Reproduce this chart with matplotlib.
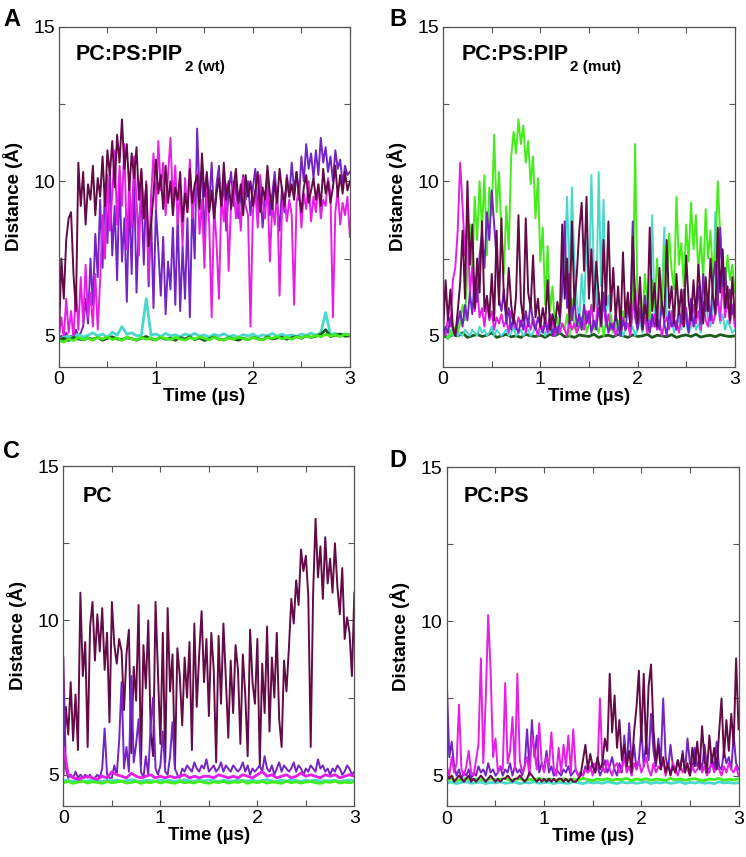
import numpy as np
import matplotlib.pyplot as plt

plt.rcParams['font.family'] = ['Liberation Sans', 'DejaVu Sans']

# colores tipo xmgrace
MAROON = '#640a46'
INDIGO = '#7424c4'
MAGENTA = '#e61ee6'
TURQ = '#48d8cc'
GREEN = '#44ec1c'
DKGREEN = '#1e5a1e'

# ---------------- Panel A: PC:PS:PIP2 (wt) ----------------
a_maroon = [4.9, 7.5, 6.2, 8.1, 8.8,
            9.0, 7.0, 5.8, 10.6,
            9.2, 10.3, 8.6, 9.9, 9.4, 10.5, 8.9, 10.1,
            9.5, 10.8, 9.2, 11.0, 10.2, 11.3, 9.8, 11.5,
            10.6, 12.0, 10.4, 11.2, 9.7, 10.9, 10.1, 11.1,
            9.4, 10.4, 8.8, 9.9, 7.9, 8.6, 9.6, 10.7,
            9.6, 10.2, 9.1, 10.5, 9.3, 10.0, 8.9, 9.8,
            9.4, 10.3, 8.7, 9.6, 9.0, 10.4, 9.3, 9.9,
            10.2, 9.1, 10.9, 9.5, 10.3, 9.0, 9.7, 8.8,
            9.6, 10.1, 9.2, 10.6, 9.4, 10.0, 9.1, 9.8,
            10.4, 9.3, 9.9, 8.9, 10.2, 9.5, 10.0, 9.2,
            9.7, 10.3, 9.0, 9.8, 9.4, 10.5, 9.6, 9.1,
            10.0, 9.3, 10.4, 9.7, 9.2, 10.1, 9.5, 9.9,
            9.4, 10.3, 9.6, 9.0, 9.8, 10.2, 9.3, 9.7,
            10.1, 9.4, 9.9, 9.2, 10.4, 9.6, 10.0, 9.3,
            9.8, 10.5, 9.5, 10.2, 9.6, 10.3, 9.7, 10.0]
a_indigo = [4.9, 5.0, 4.8, 5.1, 4.9, 5.0, 4.9, 5.2, 5.0, 5.1,
            5.3, 6.2, 5.4, 7.5, 6.0, 8.3, 6.9, 9.4,
            7.2, 9.9, 8.0, 10.4, 7.6, 9.2, 6.8, 10.1,
            7.4, 8.8, 6.1, 9.5, 7.0, 10.2, 6.4, 8.7,
            9.6, 7.3, 10.0, 6.6, 8.9, 5.9, 9.1, 7.8,
            6.3, 8.2, 5.7, 7.4, 6.5, 8.5, 6.0, 9.0,
            5.8, 7.9, 6.2, 8.8, 5.6, 9.3, 7.5, 11.7,
            9.6, 10.4, 8.1, 10.2, 9.3, 10.6, 8.7, 9.9,
            10.5, 9.0, 10.1, 8.4, 9.7, 10.3, 9.2, 10.0,
            8.8, 9.6, 10.2, 9.4, 10.0, 8.9, 9.8, 10.4,
            9.1, 9.9, 8.5, 9.5, 10.1, 8.9, 9.6, 10.3,
            9.3, 8.4, 9.8, 9.0, 10.2, 9.5, 10.6, 9.7,
            10.3, 9.4, 10.8, 10.0, 11.2, 10.4, 10.9, 10.1,
            11.0, 10.2, 11.4, 10.6, 11.1, 10.3, 10.8, 10.0,
            11.0, 10.4, 10.7, 9.9, 10.5, 10.2, 10.3]
a_magenta = [5.0, 5.6, 4.9, 6.2, 5.1, 5.8, 4.9, 6.6,
             5.2, 6.9, 5.4, 7.3, 5.6, 6.4, 5.3, 7.0,
             5.2, 6.8, 8.9, 7.5, 10.2, 8.4, 9.6, 11.0,
             8.6, 10.5, 9.2, 11.2, 7.8, 10.0, 8.5, 10.8,
             9.4, 7.6, 10.3, 8.8, 9.9, 6.8, 9.5, 10.9,
             9.1, 11.3, 9.7, 10.6, 8.9, 10.2, 11.4, 9.3,
             10.5, 8.6, 9.8, 7.9, 10.1, 9.0, 10.7, 8.8,
             9.6, 10.3, 8.3, 9.4, 7.2, 9.8, 8.6, 5.6,
             9.2, 8.0, 6.2, 9.5, 8.7, 9.9, 7.1, 9.3,
             10.0, 8.8, 9.6, 8.4, 10.1, 9.2, 8.9, 5.3,
             9.0, 9.7, 8.5, 10.2, 9.4, 8.8, 9.9, 7.4,
             9.3, 8.6, 9.8, 6.3, 9.1, 9.6, 8.7, 9.4,
             8.9, 6.0, 9.3, 9.8, 8.5, 9.6, 9.1, 10.0,
             8.7, 9.5, 9.0, 9.9, 8.8, 9.4, 9.2, 10.1,
             9.6, 5.6, 9.0, 9.7, 8.6, 9.3, 8.9, 9.5, 8.2]
a_turq = [4.90, 4.95, 5.00, 4.92, 5.05, 4.96, 5.02, 5.10, 5.00, 5.06,
          4.95, 5.12, 5.02, 5.30, 5.05, 5.10, 5.00, 5.03, 6.20, 5.02,
          5.06, 4.98, 5.08, 5.00, 5.04, 4.97, 5.06, 5.01, 5.08, 4.99,
          5.03, 4.96, 5.05, 5.00, 5.07, 4.98, 5.02, 4.95, 5.04, 5.00,
          5.06, 4.97, 5.03, 5.00, 5.08, 4.99, 5.05, 5.00, 5.03, 4.98,
          5.06, 5.01, 5.09, 5.02, 5.10, 5.75, 5.05, 5.08, 5.02, 5.06, 5.04]
a_dkgreen = [4.88, 4.92, 4.85, 4.95, 4.90, 4.87, 4.93, 4.89, 4.95, 4.86,
             4.92, 4.97, 4.90, 4.88, 4.94, 4.91, 4.86, 4.93, 4.98, 4.90,
             4.87, 4.95, 4.89, 4.92, 4.86, 4.94, 4.90, 4.97, 4.88, 4.93,
             4.85, 4.91, 4.96, 4.89, 4.87, 4.94, 4.90, 4.86, 4.92, 4.88,
             4.95, 4.91, 4.87, 4.97, 4.90, 4.93, 4.96, 4.89, 4.94, 4.98,
             4.92, 5.00, 4.95, 4.99, 5.05, 5.20, 4.98, 5.02, 5.06, 4.99, 5.00]
a_green = [4.85, 4.80, 4.90, 4.85, 4.95, 4.88, 4.92, 4.86, 4.95, 4.90,
           4.97, 4.88, 4.93, 4.85, 4.96, 4.90, 4.87, 4.95, 4.89, 4.93,
           4.86, 4.96, 4.91, 4.88, 4.95, 4.90, 4.86, 4.94, 4.89, 4.97,
           4.92, 4.87, 4.95, 4.90, 4.86, 4.93, 4.89, 4.96, 4.91, 4.88,
           4.95, 4.90, 4.87, 4.94, 4.92, 4.98, 4.90, 4.95, 4.89, 4.97,
           4.93, 5.00, 4.95, 5.02, 4.97, 5.05, 5.00, 5.03, 4.98, 5.05, 5.02]

# ---------------- Panel B: PC:PS:PIP2 (mut) ----------------
b_green = [5.0, 5.1, 4.9, 5.2, 5.0, 5.3, 5.1, 5.4,
           6.0, 5.5, 7.2, 8.6, 7.0, 9.5, 8.1, 10.0,
           8.4, 10.2, 7.6, 9.8, 8.9, 11.5, 9.0, 10.3,
           8.3, 7.0, 9.2, 7.8, 10.8, 11.6, 10.9, 12.0,
           11.2, 11.8, 10.6, 11.3, 9.9, 10.8, 8.8, 10.1,
           7.4, 8.5, 6.0, 7.9, 5.8, 6.6, 5.3, 5.6,
           5.1, 5.4, 5.2, 5.7, 5.0, 6.2, 5.3, 5.1,
           5.5, 5.2, 5.8, 5.1, 5.4, 6.0, 5.2, 5.3,
           5.1, 5.6, 5.0, 5.4, 5.2, 5.7, 5.1, 5.3,
           5.5, 5.0, 5.8, 5.2, 5.4, 5.1, 6.0, 11.2,
           5.8, 6.3, 5.4, 7.0, 6.1, 5.5, 6.8, 5.9,
           7.5, 6.4, 5.7, 7.9, 6.6, 8.3, 7.1, 6.5,
           9.5, 7.3, 8.0, 6.6, 8.6, 7.4, 9.3, 7.8,
           8.9, 7.0, 8.2, 6.8, 9.1, 7.5, 8.4, 6.9,
           7.7, 10.0, 8.2, 7.2, 6.5, 7.6, 6.8, 7.3, 6.4]
b_turq = [5.0, 5.1, 4.9, 5.0, 5.1, 5.2, 5.0, 5.1,
          5.0, 5.2, 5.1, 5.0, 5.2, 5.1, 5.0, 5.3,
          5.1, 5.2, 5.0, 5.1, 5.3, 5.0, 5.2, 5.1,
          5.0, 5.1, 5.2, 5.0, 5.1, 5.3, 5.0, 5.1,
          5.2, 5.0, 5.1, 5.2, 5.0, 5.1, 5.3, 5.0,
          5.1, 5.2, 5.0, 5.4, 5.1, 5.2, 5.0, 5.3,
          5.6, 6.5, 7.2, 9.5, 6.8, 9.8, 7.4, 6.1,
          5.5, 7.0, 5.8, 8.2, 6.4, 10.2, 7.1, 5.9,
          10.3, 6.6, 9.4, 5.8, 6.3, 5.4, 5.2, 5.5,
          5.1, 5.3, 5.0, 5.2, 5.4, 5.1, 5.3, 5.0,
          5.2, 5.5, 5.1, 5.8, 5.3, 6.0, 8.9, 5.6,
          5.2, 5.8, 6.4, 8.5, 5.7, 5.3, 5.5, 5.1,
          5.3, 5.6, 5.2, 5.9, 5.4, 5.1, 5.3, 5.6,
          5.2, 5.4, 5.1, 5.8, 6.2, 5.5, 5.3, 5.9,
          9.0, 6.1, 5.4, 5.7, 5.2, 5.5, 5.3, 5.1, 5.2]
b_maroon = [5.1, 6.8, 5.5, 6.5, 5.3, 5.0, 5.8, 6.7,
            8.4, 6.2, 10.0, 7.3, 8.6, 5.9, 7.5, 6.4,
            8.7, 5.8, 6.3, 5.6, 7.0, 5.5, 8.4, 6.0,
            8.8, 6.2, 5.7, 7.2, 6.0, 5.4, 6.3, 8.9,
            6.1, 5.5, 8.8, 6.4, 5.9, 7.6, 5.6, 6.2,
            5.3, 5.9, 5.4, 6.8, 5.2, 5.7, 5.3, 6.1,
            5.6, 8.6, 6.2, 7.5, 5.4, 8.7, 6.0, 7.0,
            8.4, 9.3, 7.1, 9.5, 6.2, 7.8, 5.8, 7.4,
            6.3, 5.4, 8.1, 6.0, 8.7, 5.8, 7.2, 5.5,
            6.6, 5.2, 7.7, 5.6, 6.4, 5.3, 8.2, 6.1,
            5.4, 6.9, 5.2, 6.0, 5.5, 8.5, 5.8, 6.7,
            5.3, 7.2, 6.0, 5.6, 8.1, 5.9, 6.6, 5.4,
            7.0, 5.7, 6.5, 5.3, 7.6, 6.1, 5.5, 6.8,
            5.6, 7.3, 6.2, 5.4, 6.9, 5.8, 7.5, 6.3,
            5.7, 8.5, 6.4, 7.8, 5.9, 6.6, 5.5, 6.9, 5.6]
b_indigo = [5.0, 5.3, 5.1, 5.6, 5.2, 5.0, 5.4, 5.8,
            5.3, 6.0, 5.5, 6.4, 5.7, 6.9, 6.1, 7.6,
            8.3, 7.2, 9.0, 8.1, 9.7, 8.6, 7.5, 6.2,
            5.8, 6.5, 5.4, 5.9, 5.2, 5.6, 5.3, 5.1,
            5.5, 5.2, 5.8, 5.3, 6.1, 5.4, 5.2, 5.6,
            5.3, 5.1, 5.4, 5.2, 5.7, 5.0, 5.3, 5.1,
            5.4, 6.6, 8.7, 5.9, 7.0, 5.5, 6.2, 5.3,
            5.7, 5.2, 6.0, 5.4, 5.8, 5.1, 5.5, 5.2,
            5.9, 5.3, 6.4, 5.6, 5.1, 5.4, 5.2, 5.7,
            5.3, 5.0, 5.5, 5.2, 6.0, 5.4, 8.7, 5.6,
            5.2, 5.8, 5.3, 6.3, 5.5, 5.1, 5.7, 5.3,
            5.6, 5.2, 6.1, 5.4, 5.0, 5.8, 5.3, 5.5,
            5.2, 5.9, 5.4, 6.5, 5.6, 5.1, 6.2, 5.3,
            5.7, 6.6, 5.4, 7.0, 5.8, 6.3, 5.5, 6.8,
            7.4, 6.0, 8.5, 6.6, 7.2, 5.9, 6.5, 5.7, 6.0]
b_magenta = [5.2, 5.0, 5.6, 5.3, 6.8, 7.2, 8.4, 10.6,
             9.2, 7.6, 8.8, 6.4, 7.2, 5.8, 6.5, 5.6,
             5.9, 5.3, 6.1, 5.5, 5.8, 5.2, 5.6, 5.4,
             5.7, 5.3, 5.5, 5.1, 5.8, 5.4, 5.2, 5.6,
             5.3, 5.7, 5.1, 5.5, 5.2, 5.6, 5.3, 5.0,
             5.4, 5.2, 5.6, 5.1, 5.3, 5.5, 5.0, 5.3,
             5.1, 5.4, 5.2, 5.0, 5.5, 5.2, 5.4, 5.1,
             5.3, 5.6, 5.2, 5.8, 5.4, 6.0, 5.3, 5.5,
             6.4, 5.5, 6.1, 5.3, 5.7, 5.2, 5.4, 5.0,
             5.3, 5.1, 5.6, 5.2, 5.4, 5.0, 5.8, 6.5,
             5.4, 5.9, 5.2, 5.6, 5.1, 5.5, 5.3, 5.7,
             5.2, 5.5, 5.0, 5.4, 5.6, 5.2, 5.8, 5.3,
             5.5, 5.1, 5.6, 5.3, 5.9, 5.2, 5.5, 6.0,
             5.4, 5.8, 5.2, 6.1, 5.5, 5.3, 5.9, 5.4,
             5.7, 6.3, 5.5, 6.8, 5.6, 6.2, 5.4, 6.0, 5.3]
b_dkgreen = [5.00, 4.95, 5.05, 5.00, 5.10, 4.95, 5.00, 5.05, 4.98, 5.02,
             5.10, 4.95, 5.00, 5.05, 4.97, 5.00, 4.95, 5.05, 5.00, 4.98,
             5.02, 4.95, 5.05, 5.00, 5.10, 4.97, 5.00, 4.95, 5.03, 5.00,
             4.98, 5.05, 4.95, 5.00, 5.02, 4.97, 5.05, 5.00, 4.95, 5.03,
             4.98, 5.00, 5.05, 4.95, 5.02, 5.00, 4.97, 5.04, 4.95, 5.00,
             5.03, 4.98, 5.05, 4.96, 5.00, 5.02, 4.97, 5.04, 5.00, 4.98, 5.00]

# ---------------- Panel C: PC ----------------
c_maroon = [5.0, 7.2, 6.3, 8.0, 6.1, 7.6, 5.8, 10.9,
            8.2, 9.3, 5.9, 9.8, 10.6, 8.7, 10.2, 9.0,
            10.4, 8.4, 9.6, 6.7, 10.6, 9.2, 8.6, 9.4,
            9.0, 7.1, 8.9, 9.7, 5.7, 8.5, 7.4, 10.5,
            5.3, 9.2, 7.8, 10.0, 6.4, 5.6, 10.6, 8.3,
            6.0, 9.6, 5.4, 10.4, 7.7, 8.9, 5.2, 9.1,
            8.2, 6.6, 8.8, 7.5, 9.3, 5.8, 9.9, 7.2,
            8.9, 10.3, 8.0, 9.4, 6.9, 9.6, 8.4, 5.4,
            9.5, 7.3, 9.9, 8.1, 6.2, 8.7, 7.0, 9.2,
            8.4, 6.0, 8.9, 7.6, 5.6, 9.7, 8.0, 7.3,
            9.4, 5.3, 8.6, 7.0, 9.8, 6.4, 8.8, 7.5,
            9.6, 6.8, 5.9, 8.7, 7.7, 9.1, 10.7, 9.9,
            11.3, 10.5, 12.3, 11.6, 12.1, 10.8, 5.9, 10.9,
            13.3, 11.4, 12.4, 10.7, 12.7, 11.2, 12.0, 10.9,
            12.5, 11.1, 10.2, 11.7, 9.4, 10.1, 9.6, 8.2, 10.9]
c_indigo = [8.8, 5.2, 4.9, 5.0, 4.9, 5.1, 4.9, 5.0,
            4.9, 5.0, 4.9, 5.0, 4.8, 4.9, 5.0, 4.9,
            5.2, 6.5, 5.0, 4.9, 4.9, 5.3, 5.0, 6.1,
            8.0, 5.2, 5.9, 5.1, 8.2, 5.4, 6.0, 6.8,
            5.1, 4.9, 5.6, 5.0, 6.6, 7.5, 5.2, 5.0,
            5.3, 6.4, 5.1, 5.0, 5.6, 6.7, 5.2, 5.0,
            4.9, 5.2, 5.1, 5.3, 5.2, 5.1, 5.4, 5.2,
            5.1, 5.3, 5.2, 5.5, 5.1, 5.2, 5.3, 5.1,
            5.2, 5.4, 5.1, 5.3, 5.2, 5.1, 5.3, 5.2,
            5.1, 5.2, 5.4, 5.1, 5.3, 5.0, 5.2, 5.1,
            5.2, 5.3, 5.1, 5.6, 5.2, 5.1, 5.3, 5.0,
            5.2, 5.4, 5.1, 5.3, 5.2, 5.1, 5.2, 5.4,
            5.1, 5.3, 5.2, 5.0, 5.2, 5.1, 5.3, 5.2,
            5.1, 5.5, 5.2, 5.3, 5.1, 5.2, 5.0, 5.2,
            5.1, 5.3, 5.2, 5.0, 5.1, 5.3, 5.2, 5.0, 5.1]
c_magenta = [5.90, 5.00, 4.90, 4.85, 4.90, 4.95, 4.90, 4.85, 4.95, 4.90,
             5.10, 5.00, 4.95, 4.90, 5.05, 4.95, 4.90, 4.95, 5.00, 4.90,
             4.95, 4.90, 4.95, 4.90, 4.95, 5.00, 4.90, 4.95, 4.90, 4.95,
             4.95, 4.90, 5.00, 4.95, 4.90, 4.95, 4.90, 5.00, 4.95, 4.90,
             5.00, 5.10, 4.95, 5.00, 4.90, 4.95, 5.00, 4.90, 4.95, 5.05,
             4.95, 5.00, 4.95, 4.90, 5.00, 4.95, 5.00, 4.90, 4.95, 5.00, 4.95]
c_turq = [4.80, 4.82, 4.78, 4.83, 4.80, 4.79, 4.84, 4.81, 4.78, 4.82,
          4.80, 4.83, 4.79, 4.81, 4.84, 4.80, 4.78, 4.82, 4.81, 4.79,
          4.83, 4.80, 4.82, 4.78, 4.81, 4.84, 4.80, 4.79, 4.82, 4.80,
          4.83, 4.81, 4.78, 4.82, 4.80, 4.79, 4.83, 4.81, 4.80, 4.82,
          4.78, 4.81, 4.84, 4.80, 4.79, 4.82, 4.80, 4.83, 4.81, 4.78,
          4.82, 4.80, 4.83, 4.79, 4.81, 4.80, 4.82, 4.78, 4.81, 4.83, 4.80]
c_green = [4.74, 4.78, 4.72, 4.76, 4.79, 4.73, 4.77, 4.75, 4.72, 4.78,
           4.74, 4.76, 4.79, 4.73, 4.75, 4.78, 4.72, 4.76, 4.74, 4.79,
           4.73, 4.77, 4.75, 4.72, 4.78, 4.74, 4.76, 4.73, 4.79, 4.75,
           4.72, 4.77, 4.74, 4.78, 4.73, 4.76, 4.75, 4.79, 4.72, 4.77,
           4.74, 4.78, 4.73, 4.76, 4.75, 4.72, 4.79, 4.74, 4.77, 4.73,
           4.76, 4.78, 4.74, 4.72, 4.77, 4.75, 4.79, 4.73, 4.76, 4.74, 4.77]

# ---------------- Panel D: PC:PS ----------------
d_magenta = [5.3, 5.0, 5.6, 5.1, 5.4, 7.3, 5.2, 5.0,
             5.3, 5.8, 5.1, 5.0, 5.5, 6.0, 8.8, 5.4,
             7.5, 10.2, 8.4, 5.6, 6.2, 5.1, 5.3, 5.2,
             8.0, 5.4, 5.8, 6.9, 5.2, 8.3, 5.5, 5.1,
             5.3, 5.6, 5.0, 6.3, 5.8, 5.2, 6.7, 5.4,
             5.1, 5.6, 5.3, 6.4, 5.2, 5.0, 5.9, 5.1,
             6.0, 5.3, 6.3, 5.1, 6.5, 5.2, 5.0, 5.1,
             5.0, 5.2, 5.1, 5.3, 5.0, 5.4, 5.2, 7.5,
             5.3, 5.1, 5.5, 5.2, 5.0, 5.3, 5.4, 5.1,
             5.2, 5.6, 5.1, 5.3, 5.0, 5.4, 5.2, 5.5,
             5.1, 5.3, 5.6, 5.2, 5.0, 5.4, 5.1, 5.3,
             5.2, 5.5, 5.0, 5.3, 5.1, 5.4, 5.2, 5.0,
             5.3, 5.1, 5.4, 5.2, 5.0, 5.3, 5.1, 5.2,
             5.4, 5.1, 5.3, 5.0, 5.2, 5.4, 5.1, 5.3,
             5.2, 5.0, 5.3, 5.1, 5.4, 5.2, 5.1, 5.3, 5.0]
d_indigo = [8.0, 5.6, 6.1, 5.3, 5.0, 5.2, 4.9, 5.1,
            5.0, 5.2, 4.9, 5.1, 5.0, 5.3, 5.1, 5.2,
            5.0, 5.4, 5.1, 5.2, 5.0, 5.1, 5.3, 5.0,
            5.2, 5.1, 5.4, 5.0, 5.3, 5.1, 5.2, 5.0,
            5.3, 6.5, 5.2, 6.8, 5.6, 6.3, 5.1, 5.4,
            5.2, 5.8, 5.1, 5.3, 5.0, 5.2, 5.1, 5.0,
            5.2, 5.1, 5.3, 5.0, 5.1, 5.2, 5.0, 5.1,
            5.0, 5.3, 5.1, 5.2, 5.4, 5.1, 5.3, 5.0,
            5.2, 5.5, 5.1, 5.3, 5.6, 5.2, 5.0, 5.4,
            5.1, 6.3, 5.2, 6.7, 5.4, 6.0, 5.2, 5.5,
            6.5, 5.3, 6.1, 5.5, 7.0, 5.8, 5.3, 6.2,
            5.4, 7.5, 5.6, 5.2, 6.0, 5.3, 5.1, 5.5,
            5.2, 5.8, 5.1, 6.2, 5.4, 5.2, 5.9, 5.3,
            5.5, 5.2, 6.0, 5.3, 5.1, 5.6, 5.2, 6.1,
            5.3, 5.2, 5.8, 5.4, 5.6, 5.2, 6.3, 5.4, 5.2]
d_maroon = [5.0, 4.9, 5.0, 4.8, 4.9, 5.0, 4.9, 4.8,
            4.9, 5.0, 4.8, 4.9, 4.8, 4.9, 5.0, 4.9,
            4.8, 4.9, 5.0, 4.9, 4.8, 4.9, 4.8, 4.9,
            4.9, 5.0, 4.9, 4.8, 4.9, 4.9, 5.0, 4.9,
            4.8, 4.9, 5.1, 5.0, 4.9, 4.8, 4.9, 4.8,
            4.9, 4.8, 4.9, 4.8, 4.9, 4.8, 4.9, 4.9,
            4.8, 4.9, 4.8, 4.9, 4.8, 4.8, 4.9, 5.0,
            5.5, 6.0, 5.2, 5.7, 5.3, 5.1, 5.6, 5.2,
            5.4, 6.2, 5.8, 8.3, 6.4, 7.6, 5.9, 6.8,
            5.5, 6.0, 5.3, 5.8, 5.1, 6.4, 7.2, 8.4,
            6.1, 8.3, 5.7, 7.9, 8.6, 6.5, 5.4, 6.0,
            5.2, 5.6, 5.1, 5.4, 5.0, 5.3, 5.1, 5.5,
            5.2, 5.7, 5.1, 5.4, 5.0, 5.9, 5.3, 6.1,
            5.2, 6.6, 5.5, 5.1, 6.3, 5.4, 5.9, 5.2,
            6.4, 7.5, 5.6, 6.8, 5.8, 7.0, 6.0, 8.8, 6.5]
d_green = [4.86, 4.90, 4.84, 4.88, 4.91, 4.85, 4.89, 4.87, 4.84, 4.90,
           4.86, 4.88, 4.91, 4.85, 4.87, 4.90, 4.84, 4.88, 4.86, 4.91,
           4.85, 4.89, 4.87, 4.84, 4.90, 4.86, 4.88, 4.85, 4.91, 4.87,
           4.84, 4.89, 4.86, 4.90, 4.85, 4.88, 4.87, 4.91, 4.84, 4.89,
           4.86, 4.90, 4.85, 4.88, 4.87, 4.84, 4.91, 4.86, 4.89, 4.85,
           4.88, 4.90, 4.86, 4.84, 4.89, 4.87, 4.91, 4.85, 4.88, 4.86, 4.89]
d_turq = [4.76, 4.79, 4.74, 4.78, 4.80, 4.75, 4.77, 4.79, 4.74, 4.78,
          4.76, 4.80, 4.75, 4.77, 4.79, 4.74, 4.78, 4.76, 4.80, 4.75,
          4.77, 4.79, 4.74, 4.78, 4.76, 4.75, 4.80, 4.77, 4.74, 4.79,
          4.76, 4.78, 4.75, 4.80, 4.77, 4.74, 4.79, 4.76, 4.78, 4.75,
          4.77, 4.80, 4.74, 4.78, 4.76, 4.79, 4.75, 4.77, 4.80, 4.74,
          4.78, 4.76, 4.79, 4.75, 4.77, 4.74, 4.80, 4.76, 4.78, 4.75, 4.77]

panel_letters = ['A', 'B', 'C', 'D']
panel_titles = ['PC:PS:PIP', 'PC:PS:PIP', 'PC', 'PC:PS']
panel_subs = ['2 (wt)', '2 (mut)', None, None]
panel_series = [
    [(a_indigo, INDIGO), (a_magenta, MAGENTA), (a_maroon, MAROON),
     (a_turq, TURQ), (a_dkgreen, DKGREEN), (a_green, GREEN)],
    [(b_dkgreen, DKGREEN), (b_turq, TURQ), (b_green, GREEN),
     (b_magenta, MAGENTA), (b_indigo, INDIGO), (b_maroon, MAROON)],
    [(c_maroon, MAROON), (c_indigo, INDIGO), (c_turq, TURQ),
     (c_green, GREEN), (c_magenta, MAGENTA)],
    [(d_turq, TURQ), (d_green, GREEN), (d_indigo, INDIGO),
     (d_magenta, MAGENTA), (d_maroon, MAROON)],
]

# posiciones de los ejes en fracción de figura [left, bottom, width, height]
axes_rects = [[0.079, 0.572, 0.390, 0.397],
              [0.594, 0.572, 0.391, 0.397],
              [0.085, 0.060, 0.390, 0.396],
              [0.599, 0.059, 0.391, 0.396]]
letter_pos = [(0.004, 0.991), (0.522, 0.991), (0.004, 0.487), (0.522, 0.476)]
title_pos = [(0.058, 0.903), (0.062, 0.903), (0.065, 0.894), (0.058, 0.897)]

fig = plt.figure(figsize=(7.46, 8.57), dpi=100)

for k in range(4):
    ax = fig.add_axes(axes_rects[k])
    for vals, col in panel_series[k]:
        t = np.linspace(0, 3, len(vals))
        lw = 2.0 if len(vals) < 100 else 1.4
        ax.plot(t, vals, color=col, lw=lw)

    ax.set_xlim(0, 3)
    ax.set_ylim(4, 15)
    ax.set_xticks(np.arange(0, 3.01, 0.5))
    ax.set_xticklabels(['0', '', '1', '', '2', '', '3'])
    ax.set_yticks([5, 7.5, 10, 12.5, 15])
    ax.set_yticklabels(['5', '', '10', '', '15'])
    ax.tick_params(direction='in', length=4, width=0.8, top=True, right=True,
                   labelsize=14, pad=3, color='#555555')
    for sp in ax.spines.values():
        sp.set_color('#555555')
        sp.set_linewidth(0.9)

    ax.set_xlabel('Time (µs)', fontsize=13.5, fontweight='bold', labelpad=0)
    ax.set_ylabel('Distance (Å)', fontsize=13.5, fontweight='bold')
    ax.yaxis.set_label_coords(-0.125, 0.5)

    ttl = ax.text(title_pos[k][0], title_pos[k][1], panel_titles[k], transform=ax.transAxes,
                  fontsize=15.5, fontweight='bold', va='baseline', ha='left')
    if panel_subs[k]:
        ax.annotate(panel_subs[k], xy=(1.0, 0.0), xycoords=ttl,
                    xytext=(1.5, -4.5), textcoords='offset points',
                    fontsize=11, fontweight='bold', va='baseline', ha='left')
    fig.text(letter_pos[k][0], letter_pos[k][1], panel_letters[k],
             fontsize=17, fontweight='bold', va='top', ha='left')

fig.savefig('out.png', dpi=100)
